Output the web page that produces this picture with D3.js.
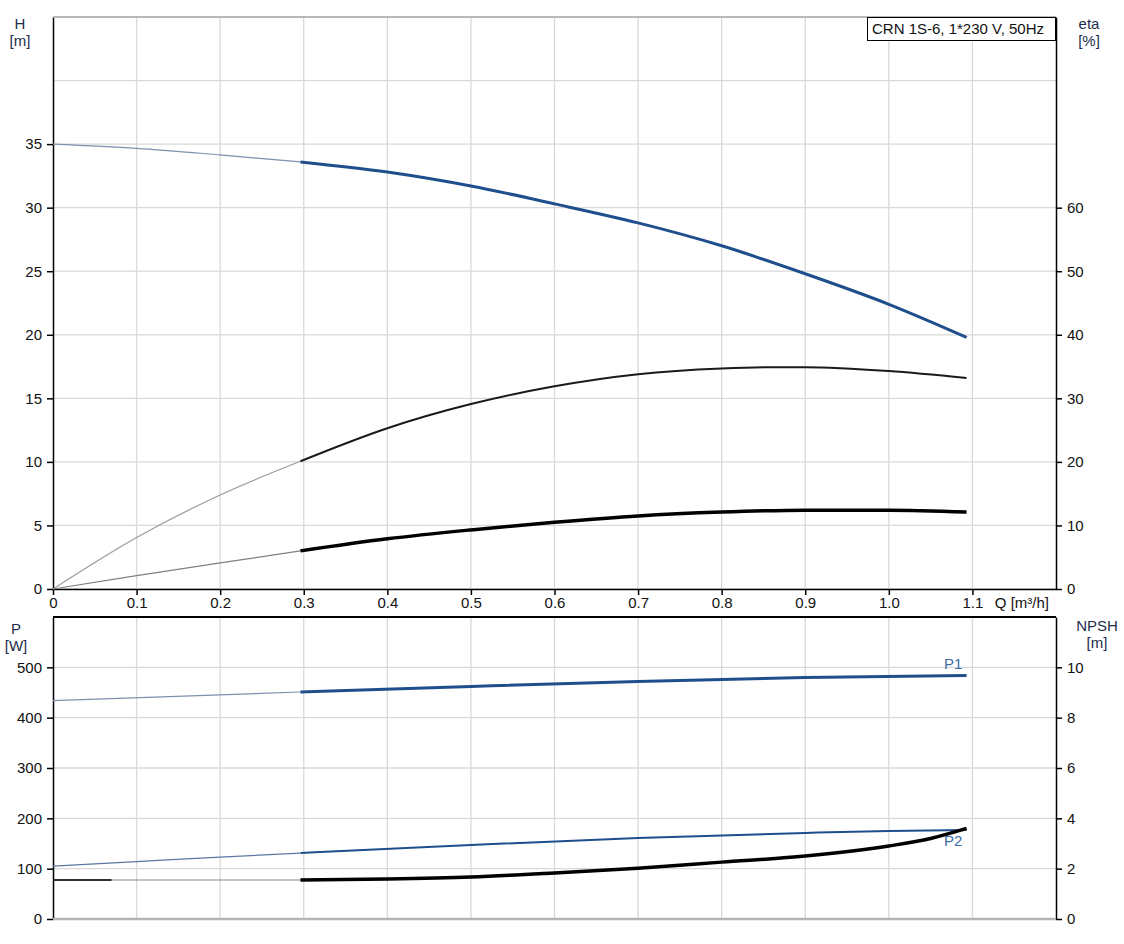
<!DOCTYPE html>
<html><head><meta charset="utf-8">
<script src="https://cdn.jsdelivr.net/npm/d3@7"></script>
<style>body{margin:0;background:#fff}svg{display:block;font-family:"Liberation Sans",Arial,sans-serif}</style>
</head><body><svg id="c" width="1124" height="944"></svg>
<script>
// ---- data ----
const qTicks = [0,0.1,0.2,0.3,0.4,0.5,0.6,0.7,0.8,0.9,1.0,1.1];
const qTickLabels = ["0","0.1","0.2","0.3","0.4","0.5","0.6","0.7","0.8","0.9","1.0","1.1"];
const hTicks = [0,5,10,15,20,25,30,35];
const etaTicks = [0,10,20,30,40,50,60];
const pTicks = [0,100,200,300,400,500];
const npshTicks = [0,2,4,6,8,10];

const qStart = 0.296; // start of the operating range
const hQ     = [0, 0.1, 0.2, 0.296, 0.4, 0.5, 0.6, 0.7, 0.8, 0.9, 1.0, 1.093];
const hVal   = [35.0, 34.67, 34.15, 33.6, 32.8, 31.7, 30.3, 28.8, 27.0, 24.8, 22.4, 19.8];
const etaQ   = [0, 0.1, 0.2, 0.296, 0.4, 0.5, 0.6, 0.7, 0.8, 0.86, 0.9, 1.0, 1.093];
const etaVal = [0, 8.1, 14.8, 20.1, 25.3, 29.1, 31.9, 33.8, 34.7, 34.9, 34.9, 34.3, 33.2];
const eta2Q  = [0, 0.1, 0.2, 0.296, 0.4, 0.5, 0.6, 0.7, 0.8, 0.9, 1.0, 1.093];
const eta2Val= [0, 2.1, 4.1, 6.0, 7.9, 9.3, 10.5, 11.5, 12.1, 12.4, 12.4, 12.1];
const p1Q    = [0, 0.296, 0.5, 0.7, 0.9, 1.093];
const p1Val  = [434, 451, 462, 472, 480, 484];
const p2Q    = [0, 0.1, 0.2, 0.296, 0.5, 0.7, 0.9, 1.0, 1.093];
const p2Val  = [105, 114, 123, 131, 147, 161, 171, 175, 177];
const npshQ  = [0, 0.07, 0.2, 0.296, 0.4, 0.5, 0.6, 0.7, 0.8, 0.9, 1.0, 1.05, 1.093];
const npshVal= [1.55, 1.55, 1.55, 1.55, 1.59, 1.67, 1.83, 2.02, 2.26, 2.5, 2.9, 3.2, 3.6];

// ---- layout ----
const svg = d3.select("#c");
const L = 53, R = 1056;
const x = d3.scaleLinear().domain([0,1.2]).range([L,R]);
const yH = d3.scaleLinear().domain([0,45]).range([589,17]);
const yEta = d3.scaleLinear().domain([0,90]).range([589,17]);
const yP = d3.scaleLinear().domain([0,600]).range([919,617]);
const yN = d3.scaleLinear().domain([0,12]).range([919,617]);
const grid = "#d9d9d9", tc = "#111", titleC = "#1d2d4a", blue = "#1f4e8c";
const fs = "15px";

function gridLines(ys, top, bot){
  const g = svg.append("g");
  qTicks.slice(1).forEach(q=>g.append("line").attr("x1",x(q)).attr("x2",x(q)).attr("y1",top).attr("y2",bot).attr("stroke",grid).attr("stroke-width",1.3));
  ys.forEach(v=>g.append("line").attr("x1",L).attr("x2",R).attr("y1",v).attr("y2",v).attr("stroke",grid).attr("stroke-width",1.3));
}
gridLines(d3.range(0,46,5).map(v=>yH(v)), 17, 589);
gridLines(d3.range(0,601,100).map(v=>yP(v)), 617, 919);

function styleAxis(g){
  g.select(".domain").attr("stroke","#000").attr("stroke-width",1.5);
  g.selectAll(".tick line").attr("stroke","#000").attr("stroke-width",1.5);
  g.selectAll(".tick text").attr("fill",tc).style("font-size",fs);
}
// top plot axes
styleAxis(svg.append("g").attr("transform",`translate(${L},0)`).call(d3.axisLeft(yH).tickValues(hTicks).tickSize(6).tickPadding(5).tickSizeOuter(0)));
styleAxis(svg.append("g").attr("transform",`translate(${R},0)`).call(d3.axisRight(yEta).tickValues(etaTicks).tickSize(6).tickPadding(5).tickSizeOuter(0)));
const xa = svg.append("g").attr("transform","translate(0,589)").call(d3.axisBottom(x).tickValues(qTicks).tickFormat((d,i)=>qTickLabels[i]).tickSize(6).tickPadding(2).tickSizeOuter(0));
styleAxis(xa);
svg.append("line").attr("x1",L).attr("x2",R).attr("y1",17).attr("y2",17).attr("stroke","#aaa").attr("stroke-width",1.3);
svg.append("text").attr("x",1049).attr("y",608).attr("text-anchor","end").attr("fill",tc).style("font-size",fs).text("Q [m³/h]");

// bottom plot axes
styleAxis(svg.append("g").attr("transform",`translate(${L},0)`).call(d3.axisLeft(yP).tickValues(pTicks).tickSize(6).tickPadding(5).tickSizeOuter(0)));
styleAxis(svg.append("g").attr("transform",`translate(${R},0)`).call(d3.axisRight(yN).tickValues(npshTicks).tickSize(6).tickPadding(5).tickSizeOuter(0)));
svg.append("line").attr("x1",L).attr("x2",R).attr("y1",617).attr("y2",617).attr("stroke","#000").attr("stroke-width",2);
svg.append("line").attr("x1",L).attr("x2",R).attr("y1",919).attr("y2",919).attr("stroke","#b5b5b5").attr("stroke-width",2.5);

// titles
function title(tx, ty, lines, anchor){
  lines.forEach((t,i)=>svg.append("text").attr("x",tx).attr("y",ty+i*17).attr("text-anchor",anchor).attr("fill",titleC).style("font-size",fs).text(t));
}
title(20,29,["H","[m]"],"middle");
title(1089,29,["eta","[%]"],"middle");
title(16,634,["P","[W]"],"middle");
title(1097,631,["NPSH","[m]"],"middle");

// label box
svg.append("rect").attr("x",867.5).attr("y",17.5).attr("width",188).attr("height",23).attr("fill","#fff").attr("stroke","#000").attr("stroke-width",1);
svg.append("text").attr("x",872).attr("y",34).attr("fill",tc).style("font-size",fs).text("CRN 1S-6, 1*230 V, 50Hz");

// curves
function curve(qs, vs, ys, thinC, thinW, thickC, thickW){
  const pts = qs.map((q,i)=>[q, vs[i]]);
  const line = d3.line().x(d=>x(d[0])).y(d=>ys(d[1])).curve(d3.curveMonotoneX);
  const thin = pts.filter(d=>d[0]<=qStart+1e-9);
  const thick = pts.filter(d=>d[0]>=qStart-1e-9);
  svg.append("path").attr("d",line(thin)).attr("fill","none").attr("stroke",thinC).attr("stroke-width",thinW);
  svg.append("path").attr("d",line(thick)).attr("fill","none").attr("stroke",thickC).attr("stroke-width",thickW).attr("stroke-linecap","butt");
}
curve(hQ, hVal, yH, "#7f8fae", 1.2, blue, 3);
curve(etaQ, etaVal, yEta, "#9a9a9a", 1.2, "#1a1a1a", 2);
curve(eta2Q, eta2Val, yEta, "#808080", 1.2, "#000", 3.5);
curve(p1Q, p1Val, yP, "#7f8fae", 1.2, blue, 3);
curve(p2Q, p2Val, yP, "#5a77a3", 1.2, blue, 2);
curve(npshQ, npshVal, yN, "#888", 1.2, "#000", 3.5);
// short black start segment of the NPSH curve
svg.append("line").attr("x1",x(npshQ[0])).attr("x2",x(npshQ[1])).attr("y1",yN(npshVal[0])).attr("y2",yN(npshVal[1])).attr("stroke","#000").attr("stroke-width",1.3);

svg.append("text").attr("x",944).attr("y",669).attr("fill","#3a6ea5").style("font-size",fs).text("P1");
svg.append("text").attr("x",944).attr("y",846).attr("fill","#3a6ea5").style("font-size",fs).text("P2");
</script></body></html>
